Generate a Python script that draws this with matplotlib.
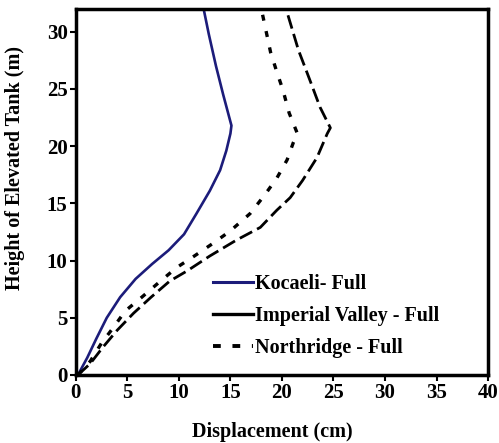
import matplotlib.pyplot as plt

# displacement profiles along the tank height (cm vs m)
kocaeli_disp = [0.2, 1.1, 2.0, 3.0, 4.3, 5.8, 7.4, 9.0, 10.5, 11.7, 13.0, 14.0, 14.6, 15.0,
                15.1, 14.3, 13.6, 12.9, 12.4]
kocaeli_h = [0.0, 1.5, 3.2, 5.0, 6.8, 8.4, 9.7, 10.9, 12.3, 14.1, 16.1, 17.9, 19.6, 21.1,
             21.8, 24.5, 27.0, 29.8, 32.0]

imperial_disp = [0.2, 1.4, 2.6, 4.0, 5.6, 7.3, 9.1, 10.8, 13.0, 15.6, 17.9, 19.5, 20.8, 22.0,
                 23.4, 24.4, 24.7, 23.7, 22.7, 21.6, 20.4]
imperial_h = [0.0, 1.0, 2.4, 3.9, 5.4, 6.8, 8.2, 9.1, 10.4, 11.8, 12.9, 14.4, 15.5, 17.0,
              19.0, 21.1, 21.6, 23.4, 25.8, 28.4, 32.0]

northridge_disp = [0.2, 1.4, 2.5, 3.6, 4.8, 6.4, 8.2, 9.8, 11.5, 13.3, 15.0, 16.9, 18.3, 19.5,
                   20.5, 21.1, 21.5, 20.7, 20.1, 19.5, 18.9, 18.0]
northridge_h = [0.0, 1.2, 2.8, 4.1, 5.6, 6.8, 8.2, 9.4, 10.4, 11.5, 12.6, 14.1, 15.7, 17.2,
                18.8, 20.3, 21.1, 22.9, 24.9, 26.5, 28.2, 32.0]

labels = ["Kocaeli- Full", "Imperial Valley - Full", "Northridge - Full"]

plt.rcParams["font.family"] = "Liberation Serif"
plt.rcParams["font.weight"] = "bold"

fig = plt.figure(figsize=(4.99, 4.43), dpi=100)
ax = fig.add_axes([0.152, 0.1535, 0.826, 0.8265])

ax.plot(kocaeli_disp, kocaeli_h, color="#1c1c7a", lw=1.9)
ax.plot(imperial_disp, imperial_h, color="black", lw=2.0, dashes=(5, 2))
ax.plot(northridge_disp, northridge_h, color="black", lw=2.4, dashes=(1.8, 3.2))

# legend shows solid handles for the first two and short dashes for the third
h1, = ax.plot([], [], color="#1c1c7a", lw=2.2)
h2, = ax.plot([], [], color="black", lw=2.4)
h3, = ax.plot([], [], color="black", lw=2.8, dashes=(2.0, 3.0))
ax.legend([h1, h2, h3], labels, loc="upper left", bbox_to_anchor=(0.333, 0.275),
          frameon=False, borderaxespad=0, borderpad=0, handlelength=2.0,
          handletextpad=0.1, labelspacing=0.58, prop={"weight": "bold", "size": 14.5})

ax.set_xlim(0, 40)
ax.set_ylim(0, 32)
ax.set_xticks(range(0, 41, 5))
ax.set_yticks(range(0, 31, 5))
ax.tick_params(direction="out", length=4, width=1.5, labelsize=15, pad=2)
for label in ax.get_xticklabels() + ax.get_yticklabels():
    label.set_fontweight("bold")
for sp in ax.spines.values():
    sp.set_linewidth(2.5)

ax.set_xlabel("Displacement (cm)", fontsize=14.5, fontweight="bold")
ax.set_ylabel("Height of Elevated Tank (m)", fontsize=14.5, fontweight="bold")
ax.xaxis.set_label_coords(0.476, -0.128)
ax.yaxis.set_label_coords(-0.124, 0.566)

plt.savefig("out.png", dpi=100)
